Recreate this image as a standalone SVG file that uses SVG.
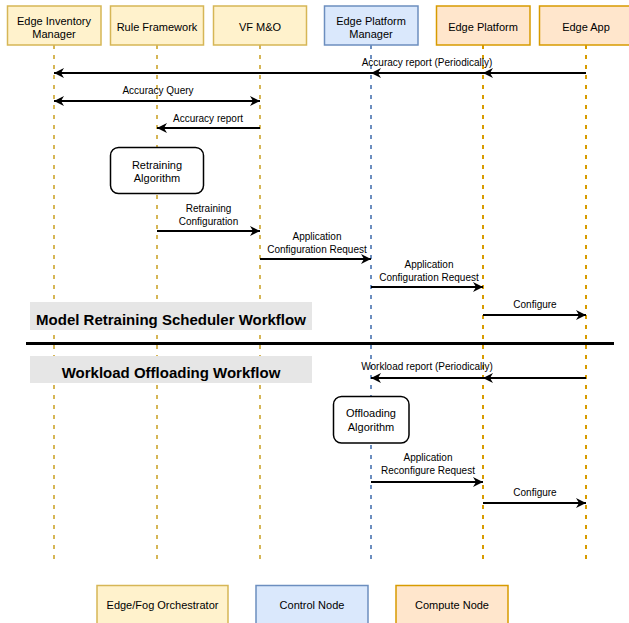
<svg xmlns="http://www.w3.org/2000/svg" width="629" height="623" viewBox="0 0 629 623">
<style>
text{font-family:"Liberation Sans",Arial,Helvetica,sans-serif;fill:#000;text-anchor:middle}
.nt{font-size:11px}
.lb{font-size:10px}
.bt{font-size:15px;font-weight:bold}
.y{fill:#fff2cc;stroke:#d6b656;stroke-width:1.5}
.b{fill:#dae8fc;stroke:#6c8ebf;stroke-width:1.5}
.o{fill:#ffe6cc;stroke:#d79b00;stroke-width:1.5}
.ll{stroke-width:2;stroke-dasharray:4 6;fill:none}
.ly{stroke:#d6b656}
.lbl{stroke:#6c8ebf}
.lo{stroke:#d79b00}
.ar{stroke:#000;stroke-width:1.8;fill:none;marker-end:url(#ah)}
.proc{fill:#fff;stroke:#000;stroke-width:1.5}
.band{fill:#e6e6e6}
</style>
<defs>
<marker id="ah" viewBox="0 0 10 10" refX="10" refY="5" markerWidth="12" markerHeight="10" markerUnits="userSpaceOnUse" orient="auto-start-reverse">
<path d="M0,0 L10,5 L0,10 L3,5 z" fill="#000"/>
</marker>
</defs>
<rect width="629" height="623" fill="#fff"/>

<g id="lifelines">
<line class="ll ly" x1="54" y1="45" x2="54" y2="565"/>
<line class="ll ly" x1="157" y1="45" x2="157" y2="565"/>
<line class="ll ly" x1="260" y1="45" x2="260" y2="565"/>
<line class="ll lbl" x1="371" y1="45" x2="371" y2="565"/>
<line class="ll lo" x1="483" y1="45" x2="483" y2="565"/>
<line class="ll lo" x1="586" y1="45" x2="586" y2="565"/>
</g>

<g id="band-retraining">
<rect class="band" x="30" y="302" width="282" height="28"/>
<text class="bt" x="171" y="324.5">Model Retraining Scheduler Workflow</text>
</g>
<g id="band-offloading">
<rect class="band" x="30" y="356" width="282" height="27"/>
<text class="bt" x="171" y="378">Workload Offloading Workflow</text>
</g>

<g id="edge-inventory-manager">
<rect class="y" x="7.5" y="6" width="93.5" height="39"/>
<text class="nt" x="54" y="24.5">Edge Inventory</text>
<text class="nt" x="54" y="37.5">Manager</text>
</g>
<g id="rule-framework">
<rect class="y" x="110.5" y="6" width="93" height="39"/>
<text class="nt" x="157" y="30.5">Rule Framework</text>
</g>
<g id="vf-mo">
<rect class="y" x="213.5" y="6" width="93" height="39"/>
<text class="nt" x="260" y="30.5">VF M&amp;O</text>
</g>
<g id="edge-platform-manager">
<rect class="b" x="324.5" y="6" width="93.5" height="39"/>
<text class="nt" x="371" y="24.5">Edge Platform</text>
<text class="nt" x="371" y="37.5">Manager</text>
</g>
<g id="edge-platform">
<rect class="o" x="436.5" y="6" width="93.5" height="39"/>
<text class="nt" x="483" y="30.5">Edge Platform</text>
</g>
<g id="edge-app">
<rect class="o" x="539.5" y="6" width="93.5" height="39"/>
<text class="nt" x="586" y="30.5">Edge App</text>
</g>

<g id="retraining-algorithm">
<rect class="proc" x="110.5" y="147.5" width="93" height="46" rx="8"/>
<text class="nt" x="157" y="168.5">Retraining</text>
<text class="nt" x="157" y="181.5">Algorithm</text>
</g>
<g id="offloading-algorithm">
<rect class="proc" x="333.5" y="396.5" width="75.5" height="46.5" rx="8"/>
<text class="nt" x="371" y="417">Offloading</text>
<text class="nt" x="371" y="430.5">Algorithm</text>
</g>

<g id="connectors">
<line class="ar" x1="586" y1="73" x2="483" y2="73"/>
<line class="ar" x1="483" y1="73" x2="371" y2="73"/>
<line class="ar" x1="371" y1="73" x2="54" y2="73"/>
<text class="lb" x="427" y="65.5">Accuracy report (Periodically)</text>

<line class="ar" x1="54" y1="101" x2="260" y2="101" style="marker-start:url(#ah)"/>
<text class="lb" x="158" y="94">Accuracy Query</text>

<line class="ar" x1="260" y1="128" x2="157" y2="128"/>
<text class="lb" x="208" y="122">Accuracy report</text>

<line class="ar" x1="157" y1="231" x2="260" y2="231"/>
<text class="lb" x="208.5" y="212">Retraining</text>
<text class="lb" x="208.5" y="224.5">Configuration</text>

<line class="ar" x1="260" y1="259" x2="371" y2="259"/>
<text class="lb" x="317" y="240">Application</text>
<text class="lb" x="317" y="252.5">Configuration Request</text>

<line class="ar" x1="371" y1="287" x2="483" y2="287"/>
<text class="lb" x="429" y="268">Application</text>
<text class="lb" x="429" y="280.5">Configuration Request</text>

<line class="ar" x1="483" y1="315" x2="586" y2="315"/>
<text class="lb" x="535" y="308">Configure</text>

<line x1="26" y1="343.5" x2="614" y2="343.5" stroke="#000" stroke-width="3"/>

<line class="ar" x1="586" y1="378" x2="483" y2="378"/>
<line class="ar" x1="483" y1="378" x2="371" y2="378"/>
<text class="lb" x="427" y="370">Workload report (Periodically)</text>

<line class="ar" x1="371" y1="482" x2="483" y2="482"/>
<text class="lb" x="428" y="461">Application</text>
<text class="lb" x="428" y="473.5">Reconfigure Request</text>

<line class="ar" x1="483" y1="503" x2="586" y2="503"/>
<text class="lb" x="535" y="496">Configure</text>
</g>

<g id="legend-orchestrator">
<rect class="y" x="97" y="585.5" width="131" height="45"/>
<text class="nt" x="162.5" y="609">Edge/Fog Orchestrator</text>
</g>
<g id="legend-control">
<rect class="b" x="256" y="585.5" width="112" height="45"/>
<text class="nt" x="312" y="609">Control Node</text>
</g>
<g id="legend-compute">
<rect class="o" x="396" y="585.5" width="112" height="45"/>
<text class="nt" x="452" y="609">Compute Node</text>
</g>
</svg>
